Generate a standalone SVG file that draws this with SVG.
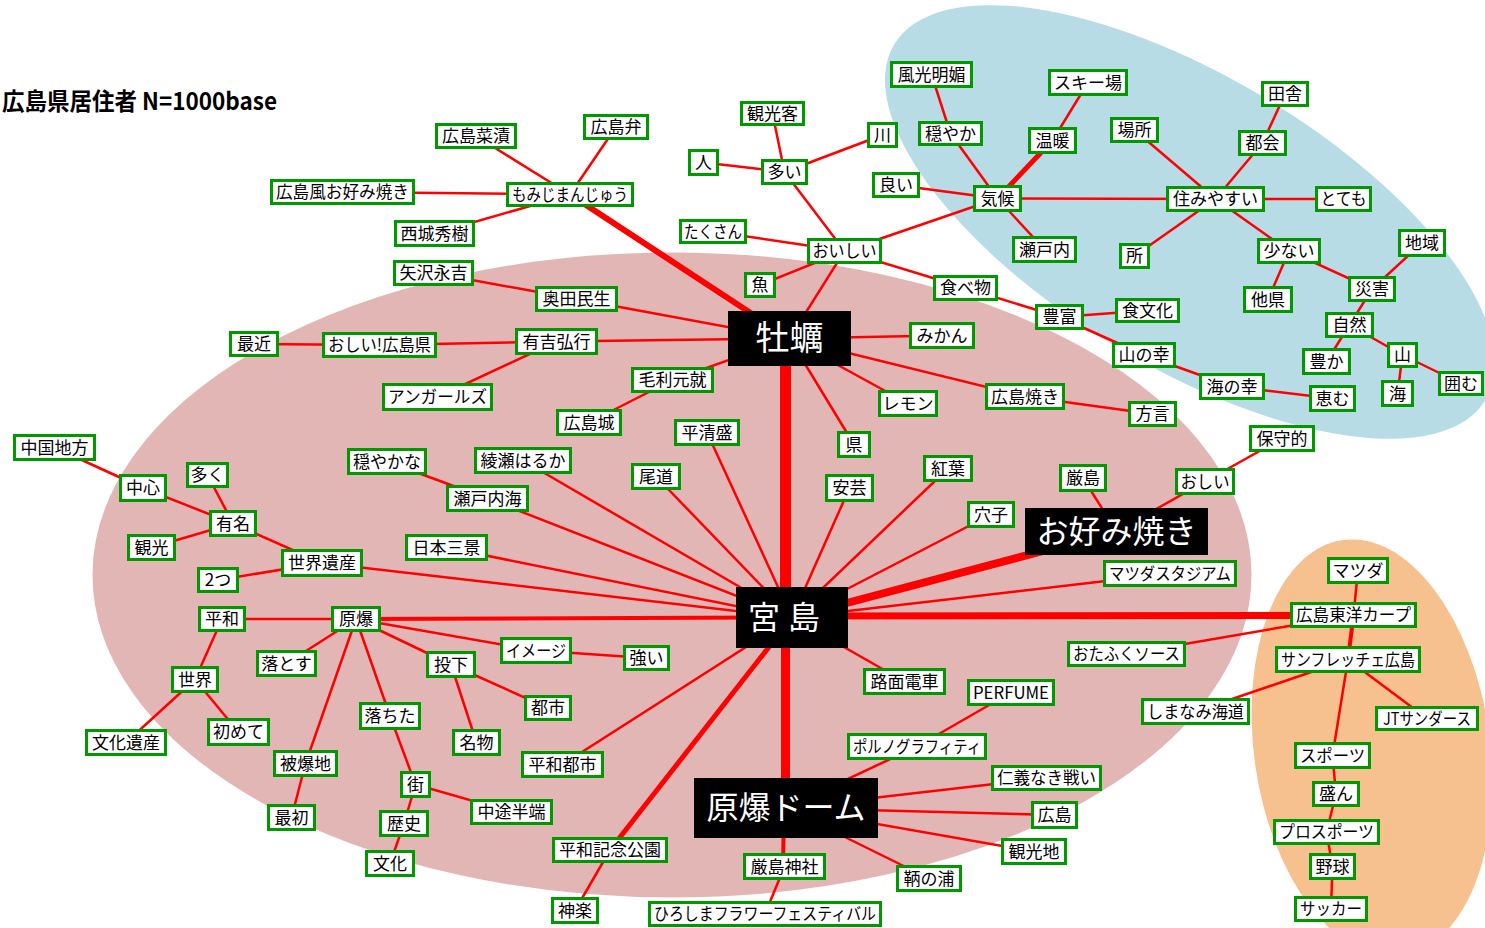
<svg xmlns="http://www.w3.org/2000/svg" width="1485" height="928" viewBox="0 0 1485 928">
<style>
.n rect{fill:#fff;stroke:#009900;stroke-width:3}
.n text{font-family:"Noto Sans CJK JP","Noto Sans",sans-serif;font-size:17px;fill:#000;text-anchor:middle}
.b rect{fill:#000}
.b text{font-family:"Noto Sans CJK JP","Noto Sans",sans-serif;font-size:32px;fill:#fff;text-anchor:middle}
#connectors line{stroke:#ff0000;stroke-width:2.5;stroke-linecap:butt}
.title{font-family:"Noto Sans CJK JP","Noto Sans",sans-serif;font-size:24px;font-weight:bold;fill:#000}
</style>
<rect width="1485" height="928" fill="#fff"/>
<g id="background">
<ellipse cx="1190" cy="222" rx="345" ry="145" transform="rotate(31 1190 222)" fill="#b7dce6"/>
<ellipse cx="1372" cy="748" rx="118" ry="210" transform="rotate(-8 1372 748)" fill="#f7c08f"/>
<ellipse cx="672" cy="575" rx="582" ry="325" fill="#e3b6b6" stroke="#fff" stroke-width="5"/>
</g>
<text class="title" x="2" y="110" textLength="275" lengthAdjust="spacingAndGlyphs">広島県居住者 N=1000base</text>
<g id="connectors">
<line x1="342.5" y1="192" x2="570" y2="194.5"/>
<line x1="476" y1="136" x2="570" y2="194.5"/>
<line x1="616" y1="127" x2="570" y2="194.5"/>
<line x1="434.5" y1="233.5" x2="570" y2="194.5"/>
<line x1="570" y1="194.5" x2="789.5" y2="338.5" style="stroke-width:6"/>
<line x1="433.5" y1="273" x2="576.5" y2="299"/>
<line x1="576.5" y1="299" x2="789.5" y2="338.5"/>
<line x1="254" y1="344" x2="379.5" y2="345"/>
<line x1="379.5" y1="345" x2="556.5" y2="341.5"/>
<line x1="556.5" y1="341.5" x2="789.5" y2="338.5"/>
<line x1="437.5" y1="397" x2="556.5" y2="341.5"/>
<line x1="672.5" y1="380" x2="789.5" y2="338.5"/>
<line x1="589" y1="422.5" x2="672.5" y2="380"/>
<line x1="703.5" y1="162.5" x2="784.5" y2="172"/>
<line x1="772.5" y1="113.5" x2="784.5" y2="172"/>
<line x1="882.5" y1="135" x2="784.5" y2="172"/>
<line x1="784.5" y1="172" x2="844.5" y2="251"/>
<line x1="713" y1="231.5" x2="844.5" y2="251"/>
<line x1="896" y1="185" x2="997.5" y2="198.5"/>
<line x1="844.5" y1="251" x2="997.5" y2="198.5"/>
<line x1="931.5" y1="74.5" x2="950.5" y2="133.5"/>
<line x1="950.5" y1="133.5" x2="997.5" y2="198.5"/>
<line x1="1052.5" y1="140.5" x2="997.5" y2="198.5" style="stroke-width:5"/>
<line x1="1088" y1="82.5" x2="1052.5" y2="140.5"/>
<line x1="997.5" y1="198.5" x2="1044.5" y2="249.5"/>
<line x1="997.5" y1="198.5" x2="1215.5" y2="199"/>
<line x1="1134.5" y1="130" x2="1215.5" y2="199"/>
<line x1="1262.5" y1="143" x2="1215.5" y2="199"/>
<line x1="1285" y1="94" x2="1262.5" y2="143"/>
<line x1="1215.5" y1="199" x2="1343.5" y2="199"/>
<line x1="1215.5" y1="199" x2="1134.5" y2="256"/>
<line x1="1215.5" y1="199" x2="1289" y2="251"/>
<line x1="1289" y1="251" x2="1268" y2="299.5"/>
<line x1="1289" y1="251" x2="1372" y2="289"/>
<line x1="1422" y1="243" x2="1372" y2="289"/>
<line x1="1372" y1="289" x2="1349.5" y2="325"/>
<line x1="1349.5" y1="325" x2="1326.5" y2="361.5"/>
<line x1="1349.5" y1="325" x2="1402.5" y2="355"/>
<line x1="1402.5" y1="355" x2="1397.5" y2="393.5"/>
<line x1="1402.5" y1="355" x2="1461" y2="383.5"/>
<line x1="844.5" y1="251" x2="760" y2="285"/>
<line x1="844.5" y1="251" x2="789.5" y2="338.5"/>
<line x1="844.5" y1="251" x2="965.5" y2="288"/>
<line x1="965.5" y1="288" x2="1059.5" y2="317"/>
<line x1="1059.5" y1="317" x2="1147.5" y2="310.5"/>
<line x1="1059.5" y1="317" x2="1144" y2="355"/>
<line x1="1144" y1="355" x2="1232" y2="386.5"/>
<line x1="1232" y1="386.5" x2="1332.5" y2="398.5"/>
<line x1="789.5" y1="338.5" x2="942" y2="335.5"/>
<line x1="789.5" y1="338.5" x2="908" y2="403.5"/>
<line x1="789.5" y1="338.5" x2="1025" y2="396.5"/>
<line x1="1025" y1="396.5" x2="1152.5" y2="414"/>
<line x1="789.5" y1="338.5" x2="854" y2="444.5"/>
<line x1="785.5" y1="360" x2="785.5" y2="595" style="stroke-width:11"/>
<line x1="1205" y1="481.5" x2="1282" y2="438.5"/>
<line x1="1116.5" y1="531.5" x2="1205" y2="481.5"/>
<line x1="1083" y1="478" x2="1116.5" y2="531.5"/>
<line x1="1116.5" y1="531.5" x2="792" y2="617.5" style="stroke-width:8"/>
<line x1="792" y1="617.5" x2="948" y2="468.5"/>
<line x1="792" y1="617.5" x2="991" y2="514.5"/>
<line x1="792" y1="617.5" x2="849.5" y2="488"/>
<line x1="792" y1="617.5" x2="707" y2="432.5"/>
<line x1="792" y1="617.5" x2="656" y2="476.5"/>
<line x1="792" y1="617.5" x2="523" y2="460.5"/>
<line x1="792" y1="617.5" x2="487.5" y2="498.5"/>
<line x1="792" y1="617.5" x2="446.5" y2="547.5"/>
<line x1="792" y1="617.5" x2="322" y2="563"/>
<line x1="387" y1="461.5" x2="487.5" y2="498.5"/>
<line x1="792" y1="617.5" x2="1170" y2="573.5"/>
<line x1="792" y1="616" x2="1353.5" y2="615.5" style="stroke-width:7"/>
<line x1="792" y1="617.5" x2="356" y2="619" style="stroke-width:4"/>
<line x1="792" y1="617.5" x2="904.5" y2="681.5"/>
<line x1="785.5" y1="640" x2="785.5" y2="790" style="stroke-width:9"/>
<line x1="792" y1="617.5" x2="610" y2="850" style="stroke-width:5"/>
<line x1="792" y1="617.5" x2="562.5" y2="764.5"/>
<line x1="1353.5" y1="615" x2="1358" y2="570.5"/>
<line x1="1353.5" y1="615" x2="1348" y2="659.5" style="stroke-width:4"/>
<line x1="1353.5" y1="615" x2="1126.5" y2="654"/>
<line x1="1348" y1="659.5" x2="1195.5" y2="711.5"/>
<line x1="1348" y1="659.5" x2="1427" y2="718.5"/>
<line x1="1348" y1="659.5" x2="1332.5" y2="755.5"/>
<line x1="1332.5" y1="755.5" x2="1336" y2="794"/>
<line x1="1336" y1="794" x2="1326.5" y2="832"/>
<line x1="1326.5" y1="832" x2="1332.5" y2="866.5"/>
<line x1="1332.5" y1="866.5" x2="1331" y2="909"/>
<line x1="222" y1="619" x2="356" y2="619"/>
<line x1="222" y1="619" x2="195" y2="679.5"/>
<line x1="195" y1="679.5" x2="126" y2="742.5"/>
<line x1="195" y1="679.5" x2="238.5" y2="732"/>
<line x1="356" y1="619" x2="286.5" y2="663.5"/>
<line x1="356" y1="619" x2="305.5" y2="763.5"/>
<line x1="305.5" y1="763.5" x2="291.5" y2="817.5"/>
<line x1="356" y1="619" x2="390" y2="716"/>
<line x1="390" y1="716" x2="415.5" y2="784.5"/>
<line x1="415.5" y1="784.5" x2="511.5" y2="812"/>
<line x1="415.5" y1="784.5" x2="404" y2="823.5"/>
<line x1="404" y1="823.5" x2="390" y2="863.5"/>
<line x1="356" y1="619" x2="451" y2="664.5"/>
<line x1="356" y1="619" x2="536" y2="650.5"/>
<line x1="536" y1="650.5" x2="646.5" y2="658"/>
<line x1="451" y1="664.5" x2="548" y2="708"/>
<line x1="451" y1="664.5" x2="476.5" y2="742.5"/>
<line x1="610" y1="850" x2="575" y2="910.5"/>
<line x1="784" y1="808" x2="783" y2="866.5" style="stroke-width:4"/>
<line x1="784.5" y1="866.5" x2="765" y2="914"/>
<line x1="786" y1="808" x2="917" y2="746.5"/>
<line x1="917" y1="746.5" x2="1011" y2="692.5"/>
<line x1="786" y1="808" x2="1046.5" y2="778"/>
<line x1="786" y1="808" x2="1054.5" y2="815"/>
<line x1="786" y1="808" x2="1034" y2="851.5"/>
<line x1="786" y1="808" x2="929" y2="878.5"/>
<line x1="233" y1="523.5" x2="143" y2="488"/>
<line x1="143" y1="488" x2="54.5" y2="447.5"/>
<line x1="207.5" y1="475" x2="233" y2="523.5"/>
<line x1="233" y1="523.5" x2="151.5" y2="547.5"/>
<line x1="233" y1="523.5" x2="322" y2="563"/>
<line x1="322" y1="563" x2="218" y2="580"/>
</g>
<g id="n1" class="n"><rect x="271.5" y="180.5" width="142" height="23"/><text x="342.5" y="198" textLength="133" lengthAdjust="spacingAndGlyphs">広島風お好み焼き</text></g>
<g id="n2" class="n"><rect x="507.5" y="183.5" width="125" height="22"/><text x="570" y="200.5" textLength="116" lengthAdjust="spacingAndGlyphs">もみじまんじゅう</text></g>
<g id="n3" class="n"><rect x="436.5" y="124.5" width="79" height="23"/><text x="476" y="142">広島菜漬</text></g>
<g id="n4" class="n"><rect x="584.5" y="115.5" width="63" height="23"/><text x="616" y="133">広島弁</text></g>
<g id="n5" class="n"><rect x="395.5" y="221.5" width="78" height="24"/><text x="434.5" y="239.5">西城秀樹</text></g>
<g id="n6" class="n"><rect x="394.5" y="261.5" width="78" height="23"/><text x="433.5" y="279">矢沢永吉</text></g>
<g id="n7" class="n"><rect x="536.5" y="287.5" width="80" height="23"/><text x="576.5" y="305">奥田民生</text></g>
<g id="n8" class="n"><rect x="689.5" y="150.5" width="28" height="24"/><text x="703.5" y="168.5">人</text></g>
<g id="n9" class="n"><rect x="680.5" y="220.5" width="65" height="22"/><text x="713" y="237.5" textLength="58" lengthAdjust="spacingAndGlyphs">たくさん</text></g>
<g id="n10" class="n"><rect x="741.5" y="102.5" width="62" height="22"/><text x="772.5" y="119.5">観光客</text></g>
<g id="n11" class="n"><rect x="762.5" y="160.5" width="44" height="23"/><text x="784.5" y="178">多い</text></g>
<g id="n12" class="n"><rect x="868.5" y="123.5" width="28" height="23"/><text x="882.5" y="141">川</text></g>
<g id="n13" class="n"><rect x="873.5" y="173.5" width="45" height="23"/><text x="896" y="191">良い</text></g>
<g id="n14" class="n"><rect x="891.5" y="62.5" width="80" height="24"/><text x="931.5" y="80.5">風光明媚</text></g>
<g id="n15" class="n"><rect x="919.5" y="122.5" width="62" height="22"/><text x="950.5" y="139.5">穏やか</text></g>
<g id="n16" class="n"><rect x="1029.5" y="128.5" width="46" height="24"/><text x="1052.5" y="146.5">温暖</text></g>
<g id="n17" class="n"><rect x="1049.5" y="70.5" width="77" height="24"/><text x="1088" y="88.5">スキー場</text></g>
<g id="n18" class="n"><rect x="974.5" y="186.5" width="46" height="24"/><text x="997.5" y="204.5">気候</text></g>
<g id="n19" class="n"><rect x="1013.5" y="237.5" width="62" height="24"/><text x="1044.5" y="255.5">瀬戸内</text></g>
<g id="n20" class="n"><rect x="808.5" y="239.5" width="72" height="23"/><text x="844.5" y="257" textLength="64" lengthAdjust="spacingAndGlyphs">おいしい</text></g>
<g id="n21" class="n"><rect x="745.5" y="273.5" width="29" height="23"/><text x="760" y="291">魚</text></g>
<g id="n22" class="n"><rect x="934.5" y="276.5" width="62" height="23"/><text x="965.5" y="294">食べ物</text></g>
<g id="n23" class="n"><rect x="1036.5" y="305.5" width="46" height="23"/><text x="1059.5" y="323">豊富</text></g>
<g id="n24" class="n"><rect x="1262.5" y="82.5" width="45" height="23"/><text x="1285" y="100">田舎</text></g>
<g id="n25" class="n"><rect x="1111.5" y="118.5" width="46" height="23"/><text x="1134.5" y="136">場所</text></g>
<g id="n26" class="n"><rect x="1239.5" y="131.5" width="46" height="23"/><text x="1262.5" y="149">都会</text></g>
<g id="n27" class="n"><rect x="1167.5" y="187.5" width="96" height="23"/><text x="1215.5" y="205">住みやすい</text></g>
<g id="n28" class="n"><rect x="1316.5" y="187.5" width="54" height="23"/><text x="1343.5" y="205" textLength="46" lengthAdjust="spacingAndGlyphs">とても</text></g>
<g id="n29" class="n"><rect x="1120.5" y="244.5" width="28" height="23"/><text x="1134.5" y="262">所</text></g>
<g id="n30" class="n"><rect x="1258.5" y="239.5" width="61" height="23"/><text x="1289" y="257">少ない</text></g>
<g id="n31" class="n"><rect x="1399.5" y="230.5" width="45" height="25"/><text x="1422" y="249">地域</text></g>
<g id="n32" class="n"><rect x="1349.5" y="277.5" width="45" height="23"/><text x="1372" y="295">災害</text></g>
<g id="n33" class="n"><rect x="1244.5" y="287.5" width="47" height="24"/><text x="1268" y="305.5">他県</text></g>
<g id="n34" class="n"><rect x="1116.5" y="299.5" width="62" height="22"/><text x="1147.5" y="316.5">食文化</text></g>
<g id="n35" class="n"><rect x="1326.5" y="313.5" width="46" height="23"/><text x="1349.5" y="331">自然</text></g>
<g id="n36" class="n"><rect x="1113.5" y="343.5" width="61" height="23"/><text x="1144" y="361">山の幸</text></g>
<g id="n37" class="n"><rect x="1303.5" y="349.5" width="46" height="24"/><text x="1326.5" y="367.5">豊か</text></g>
<g id="n38" class="n"><rect x="1388.5" y="343.5" width="28" height="23"/><text x="1402.5" y="361">山</text></g>
<g id="n39" class="n"><rect x="1439.5" y="372.5" width="43" height="22"/><text x="1461" y="389.5">囲む</text></g>
<g id="n40" class="n"><rect x="1200.5" y="374.5" width="63" height="24"/><text x="1232" y="392.5">海の幸</text></g>
<g id="n41" class="n"><rect x="1310.5" y="386.5" width="44" height="24"/><text x="1332.5" y="404.5">恵む</text></g>
<g id="n42" class="n"><rect x="1382.5" y="381.5" width="30" height="24"/><text x="1397.5" y="399.5">海</text></g>
<g id="n43" class="n"><rect x="1129.5" y="402.5" width="46" height="23"/><text x="1152.5" y="420">方言</text></g>
<g id="n44" class="n"><rect x="1250.5" y="426.5" width="63" height="24"/><text x="1282" y="444.5">保守的</text></g>
<g id="n45" class="n"><rect x="1176.5" y="469.5" width="57" height="24"/><text x="1205" y="487.5" textLength="49" lengthAdjust="spacingAndGlyphs">おしい</text></g>
<g id="n46" class="n"><rect x="1104.5" y="561.5" width="131" height="24"/><text x="1170" y="579.5" textLength="122" lengthAdjust="spacingAndGlyphs">マツダスタジアム</text></g>
<g id="n47" class="n"><rect x="1328.5" y="558.5" width="59" height="24"/><text x="1358" y="576.5">マツダ</text></g>
<g id="n48" class="n"><rect x="1291.5" y="603.5" width="124" height="23"/><text x="1353.5" y="621" textLength="115" lengthAdjust="spacingAndGlyphs">広島東洋カープ</text></g>
<g id="n49" class="n"><rect x="1276.5" y="647.5" width="143" height="24"/><text x="1348" y="665.5" textLength="134" lengthAdjust="spacingAndGlyphs">サンフレッチェ広島</text></g>
<g id="n50" class="n"><rect x="1142.5" y="699.5" width="106" height="24"/><text x="1195.5" y="717.5" textLength="97" lengthAdjust="spacingAndGlyphs">しまなみ海道</text></g>
<g id="n51" class="n"><rect x="1376.5" y="707.5" width="101" height="22"/><text x="1427" y="724.5" textLength="88" lengthAdjust="spacingAndGlyphs">JTサンダース</text></g>
<g id="n52" class="n"><rect x="1295.5" y="743.5" width="74" height="24"/><text x="1332.5" y="761.5" textLength="65" lengthAdjust="spacingAndGlyphs">スポーツ</text></g>
<g id="n53" class="n"><rect x="1313.5" y="782.5" width="45" height="23"/><text x="1336" y="800">盛ん</text></g>
<g id="n54" class="n"><rect x="1274.5" y="820.5" width="104" height="23"/><text x="1326.5" y="838" textLength="95" lengthAdjust="spacingAndGlyphs">プロスポーツ</text></g>
<g id="n55" class="n"><rect x="1310.5" y="854.5" width="44" height="24"/><text x="1332.5" y="872.5">野球</text></g>
<g id="n56" class="n"><rect x="1295.5" y="897.5" width="71" height="23"/><text x="1331" y="915" textLength="62" lengthAdjust="spacingAndGlyphs">サッカー</text></g>
<g id="n57" class="n"><rect x="1068.5" y="642.5" width="116" height="23"/><text x="1126.5" y="660" textLength="107" lengthAdjust="spacingAndGlyphs">おたふくソース</text></g>
<g id="n58" class="n"><rect x="864.5" y="669.5" width="80" height="24"/><text x="904.5" y="687.5">路面電車</text></g>
<g id="n59" class="n"><rect x="968.5" y="680.5" width="85" height="24"/><text x="1011" y="698.5" textLength="76" lengthAdjust="spacingAndGlyphs">PERFUME</text></g>
<g id="n60" class="n"><rect x="848.5" y="734.5" width="137" height="24"/><text x="917" y="752.5" textLength="128" lengthAdjust="spacingAndGlyphs">ポルノグラフィティ</text></g>
<g id="n61" class="n"><rect x="992.5" y="766.5" width="108" height="23"/><text x="1046.5" y="784" textLength="99" lengthAdjust="spacingAndGlyphs">仁義なき戦い</text></g>
<g id="n62" class="n"><rect x="1032.5" y="802.5" width="44" height="25"/><text x="1054.5" y="821">広島</text></g>
<g id="n63" class="n"><rect x="1002.5" y="839.5" width="63" height="24"/><text x="1034" y="857.5">観光地</text></g>
<g id="n64" class="n"><rect x="897.5" y="866.5" width="63" height="24"/><text x="929" y="884.5">鞆の浦</text></g>
<g id="n65" class="n"><rect x="744.5" y="854.5" width="80" height="24"/><text x="784.5" y="872.5">厳島神社</text></g>
<g id="n66" class="n"><rect x="649.5" y="902.5" width="231" height="23"/><text x="765" y="920" textLength="222" lengthAdjust="spacingAndGlyphs">ひろしまフラワーフェスティバル</text></g>
<g id="n67" class="n"><rect x="501.5" y="638.5" width="69" height="24"/><text x="536" y="656.5" textLength="60" lengthAdjust="spacingAndGlyphs">イメージ</text></g>
<g id="n68" class="n"><rect x="624.5" y="646.5" width="44" height="23"/><text x="646.5" y="664">強い</text></g>
<g id="n69" class="n"><rect x="427.5" y="652.5" width="47" height="24"/><text x="451" y="670.5">投下</text></g>
<g id="n70" class="n"><rect x="525.5" y="696.5" width="45" height="23"/><text x="548" y="714">都市</text></g>
<g id="n71" class="n"><rect x="360.5" y="703.5" width="59" height="25"/><text x="390" y="722">落ちた</text></g>
<g id="n72" class="n"><rect x="453.5" y="730.5" width="46" height="24"/><text x="476.5" y="748.5">名物</text></g>
<g id="n73" class="n"><rect x="522.5" y="752.5" width="80" height="24"/><text x="562.5" y="770.5">平和都市</text></g>
<g id="n74" class="n"><rect x="401.5" y="772.5" width="28" height="24"/><text x="415.5" y="790.5">街</text></g>
<g id="n75" class="n"><rect x="471.5" y="800.5" width="80" height="23"/><text x="511.5" y="818">中途半端</text></g>
<g id="n76" class="n"><rect x="380.5" y="811.5" width="47" height="24"/><text x="404" y="829.5">歴史</text></g>
<g id="n77" class="n"><rect x="366.5" y="851.5" width="47" height="24"/><text x="390" y="869.5">文化</text></g>
<g id="n78" class="n"><rect x="553.5" y="838.5" width="113" height="23"/><text x="610" y="856">平和記念公園</text></g>
<g id="n79" class="n"><rect x="552.5" y="898.5" width="45" height="24"/><text x="575" y="916.5">神楽</text></g>
<g id="n80" class="n"><rect x="199.5" y="607.5" width="45" height="23"/><text x="222" y="625">平和</text></g>
<g id="n81" class="n"><rect x="332.5" y="607.5" width="47" height="23"/><text x="356" y="625">原爆</text></g>
<g id="n82" class="n"><rect x="257.5" y="651.5" width="58" height="24"/><text x="286.5" y="669.5">落とす</text></g>
<g id="n83" class="n"><rect x="172.5" y="667.5" width="45" height="24"/><text x="195" y="685.5">世界</text></g>
<g id="n84" class="n"><rect x="208.5" y="719.5" width="60" height="25"/><text x="238.5" y="738">初めて</text></g>
<g id="n85" class="n"><rect x="86.5" y="730.5" width="79" height="24"/><text x="126" y="748.5">文化遺産</text></g>
<g id="n86" class="n"><rect x="274.5" y="751.5" width="62" height="24"/><text x="305.5" y="769.5">被爆地</text></g>
<g id="n87" class="n"><rect x="268.5" y="805.5" width="46" height="24"/><text x="291.5" y="823.5">最初</text></g>
<g id="n88" class="n"><rect x="230.5" y="332.5" width="47" height="23"/><text x="254" y="350">最近</text></g>
<g id="n89" class="n"><rect x="323.5" y="333.5" width="112" height="23"/><text x="379.5" y="351" textLength="103" lengthAdjust="spacingAndGlyphs">おしい!広島県</text></g>
<g id="n90" class="n"><rect x="14.5" y="435.5" width="80" height="24"/><text x="54.5" y="453.5">中国地方</text></g>
<g id="n91" class="n"><rect x="120.5" y="475.5" width="45" height="25"/><text x="143" y="494">中心</text></g>
<g id="n92" class="n"><rect x="187.5" y="463.5" width="40" height="23"/><text x="207.5" y="481">多く</text></g>
<g id="n93" class="n"><rect x="210.5" y="511.5" width="45" height="24"/><text x="233" y="529.5">有名</text></g>
<g id="n94" class="n"><rect x="128.5" y="535.5" width="46" height="24"/><text x="151.5" y="553.5">観光</text></g>
<g id="n95" class="n"><rect x="282.5" y="550.5" width="79" height="25"/><text x="322" y="569">世界遺産</text></g>
<g id="n96" class="n"><rect x="198.5" y="568.5" width="39" height="23"/><text x="218" y="586">2つ</text></g>
<g id="n97" class="n"><rect x="348.5" y="449.5" width="77" height="24"/><text x="387" y="467.5">穏やかな</text></g>
<g id="n98" class="n"><rect x="516.5" y="329.5" width="80" height="24"/><text x="556.5" y="347.5">有吉弘行</text></g>
<g id="n99" class="n"><rect x="383.5" y="384.5" width="108" height="25"/><text x="437.5" y="403" textLength="99" lengthAdjust="spacingAndGlyphs">アンガールズ</text></g>
<g id="n100" class="n"><rect x="632.5" y="368.5" width="80" height="23"/><text x="672.5" y="386">毛利元就</text></g>
<g id="n101" class="n"><rect x="557.5" y="410.5" width="63" height="24"/><text x="589" y="428.5">広島城</text></g>
<g id="n102" class="n"><rect x="675.5" y="420.5" width="63" height="24"/><text x="707" y="438.5">平清盛</text></g>
<g id="n103" class="n"><rect x="475.5" y="448.5" width="95" height="24"/><text x="523" y="466.5">綾瀬はるか</text></g>
<g id="n104" class="n"><rect x="632.5" y="464.5" width="47" height="24"/><text x="656" y="482.5">尾道</text></g>
<g id="n105" class="n"><rect x="447.5" y="486.5" width="80" height="24"/><text x="487.5" y="504.5">瀬戸内海</text></g>
<g id="n106" class="n"><rect x="406.5" y="535.5" width="80" height="24"/><text x="446.5" y="553.5">日本三景</text></g>
<g id="n107" class="n"><rect x="910.5" y="323.5" width="63" height="24"/><text x="942" y="341.5">みかん</text></g>
<g id="n108" class="n"><rect x="879.5" y="391.5" width="57" height="24"/><text x="908" y="409.5">レモン</text></g>
<g id="n109" class="n"><rect x="986.5" y="384.5" width="77" height="24"/><text x="1025" y="402.5">広島焼き</text></g>
<g id="n110" class="n"><rect x="838.5" y="432.5" width="31" height="24"/><text x="854" y="450.5">県</text></g>
<g id="n111" class="n"><rect x="924.5" y="456.5" width="47" height="24"/><text x="948" y="474.5">紅葉</text></g>
<g id="n112" class="n"><rect x="1060.5" y="465.5" width="45" height="25"/><text x="1083" y="484">厳島</text></g>
<g id="n113" class="n"><rect x="826.5" y="475.5" width="46" height="25"/><text x="849.5" y="494">安芸</text></g>
<g id="n114" class="n"><rect x="968.5" y="502.5" width="45" height="24"/><text x="991" y="520.5">穴子</text></g>
<g id="b1" class="b"><rect x="728" y="311" width="123" height="55"/><text x="789.5" y="350" style="font-size:34px">牡蠣</text></g>
<g id="b2" class="b"><rect x="736" y="587" width="112" height="61"/><text x="788" y="629" style="letter-spacing:8px">宮島</text></g>
<g id="b3" class="b"><rect x="694" y="778" width="184" height="60"/><text x="786" y="819">原爆ドーム</text></g>
<g id="b4" class="b"><rect x="1025" y="508" width="183" height="47"/><text x="1116.5" y="543">お好み焼き</text></g>
</svg>
